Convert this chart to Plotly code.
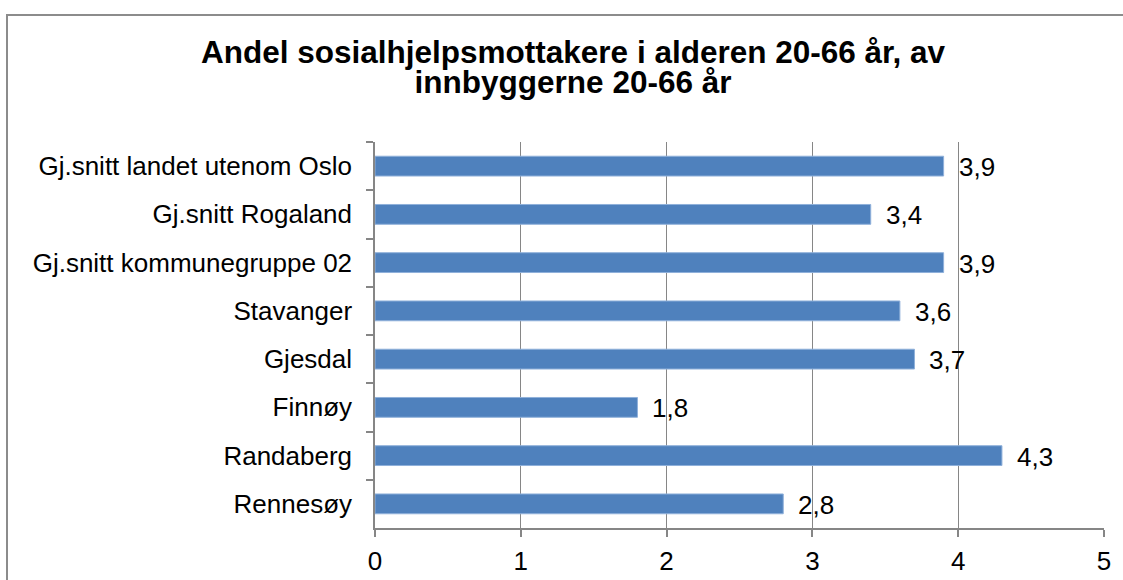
import plotly.graph_objects as go

# Data
categories = [
    "Gj.snitt landet utenom Oslo",
    "Gj.snitt Rogaland",
    "Gj.snitt kommunegruppe 02",
    "Stavanger",
    "Gjesdal",
    "Finnøy",
    "Randaberg",
    "Rennesøy",
]
values = [3.9, 3.4, 3.9, 3.6, 3.7, 1.8, 4.3, 2.8]
title_lines = [
    "Andel sosialhjelpsmottakere i alderen 20-66 år, av",
    "innbyggerne 20-66 år",
]
x_ticks = [0, 1, 2, 3, 4, 5]

FONT = "Liberation Sans, Arial, sans-serif"
GRAY = "#868686"
LABEL_SIZE = 26
W, H = 1123, 580
ML, MR, MT, MB = 375, 19, 142, 52

fig = go.Figure(
    go.Bar(
        x=values,
        y=categories,
        orientation="h",
        marker=dict(color="#4F81BD", line=dict(color="#8FB0DA", width=1)),
        hoverinfo="x+y",
    )
)

# value labels just past the end of each bar, Norwegian decimal comma
for cat, v in zip(categories, values):
    fig.add_annotation(
        x=v, y=cat, xref="x", yref="y",
        text=f"{v:.1f}".replace(".", ","),
        showarrow=False, xanchor="left", yanchor="middle",
        xshift=13, yshift=-1,
        font=dict(family=FONT, size=LABEL_SIZE, color="black"),
    )

# two-line title: small base size keeps the line pitch tight,
# the visible glyphs are enlarged via inline style
pw = W - ML - MR
ph = H - MT - MB
title_html = "<br>".join(
    f'<span style="font-size:31.5px"><b>{line}</b></span>' for line in title_lines
)
fig.add_annotation(
    x=(573 - ML) / pw, y=(H - MB - 67) / ph, xref="paper", yref="paper",
    text=title_html, showarrow=False,
    xanchor="center", yanchor="middle", align="center",
    font=dict(family=FONT, size=23, color="black"),
)

# outer chart frame
fig.add_shape(
    type="rect", xref="paper", yref="paper",
    x0=(7 - ML) / pw, x1=(1135 - ML) / pw,
    y0=(H - MB - 600) / ph, y1=(H - MB - 15) / ph,
    line=dict(color="#8C8C8C", width=2), fillcolor="rgba(0,0,0,0)",
    layer="below",
)

fig.update_layout(
    width=W, height=H,
    margin=dict(l=ML, r=MR, t=MT, b=MB, autoexpand=False),
    paper_bgcolor="white", plot_bgcolor="white",
    bargap=0.59,
    showlegend=False,
    font=dict(family=FONT, size=LABEL_SIZE, color="black"),
    xaxis=dict(
        range=[0, 5], tickvals=x_ticks, ticktext=[str(t) for t in x_ticks],
        showgrid=True, gridcolor=GRAY, gridwidth=1.3,
        showline=True, linecolor=GRAY, linewidth=1.5,
        ticks="outside", ticklen=7, tickcolor=GRAY, tickwidth=1.5,
        ticklabelstandoff=2, automargin=False,
        zeroline=False, fixedrange=True,
        tickfont=dict(family=FONT, size=LABEL_SIZE, color="black"),
    ),
    yaxis=dict(
        autorange="reversed", type="category",
        showline=True, linecolor=GRAY, linewidth=1.5,
        ticks="outside", ticklen=7, tickcolor=GRAY, tickwidth=1.5,
        tickson="boundaries", showgrid=False, fixedrange=True,
        ticklabelstandoff=16, automargin=False,
        tickfont=dict(family=FONT, size=LABEL_SIZE, color="black"),
    ),
)

fig.write_html("out.html")
